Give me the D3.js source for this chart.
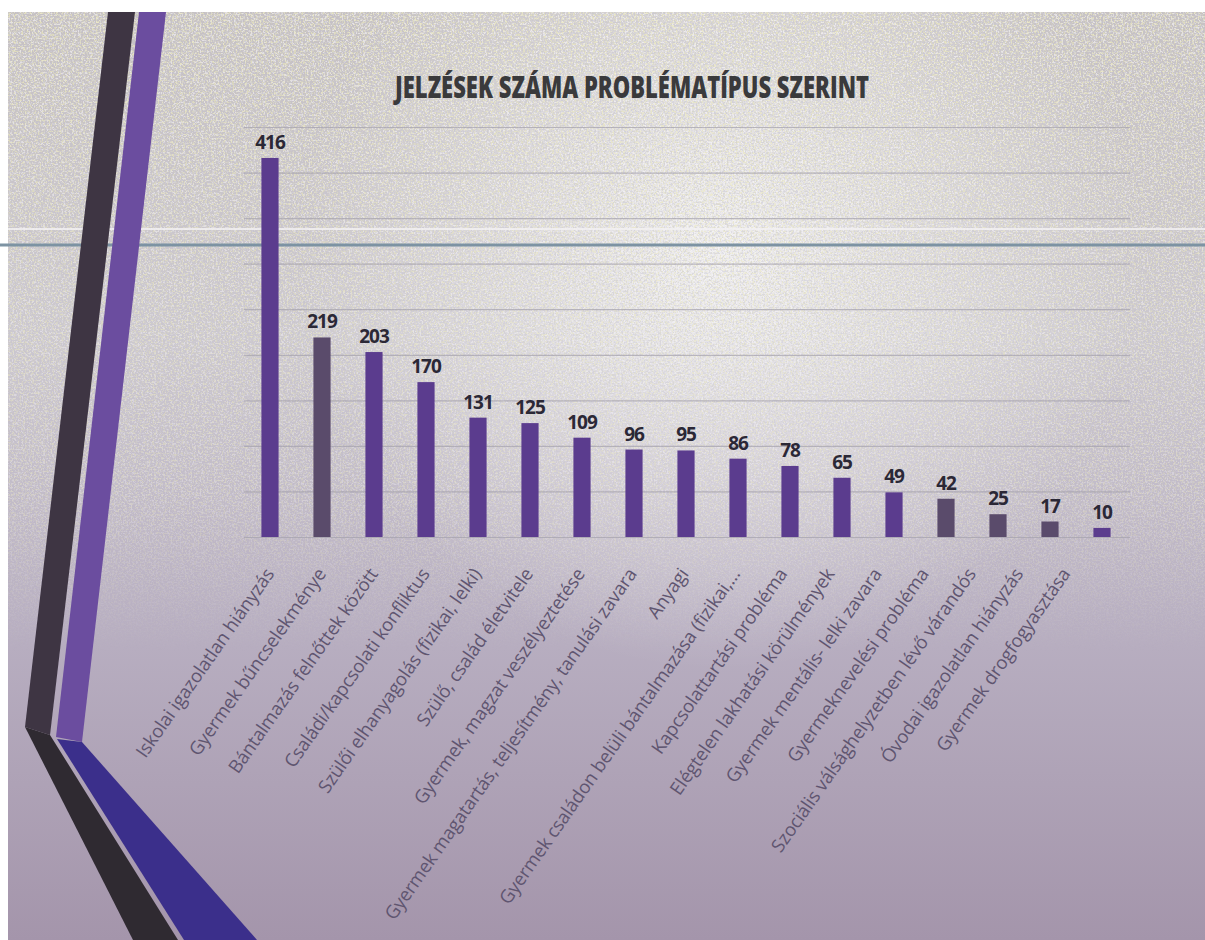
<!DOCTYPE html>
<html>
<head>
<meta charset="utf-8">
<script src="https://cdn.jsdelivr.net/npm/d3@7"></script>
<style>
  body { margin: 0; background: #fff; }
  svg { display: block; }
</style>
</head>
<body>
<div id="chart"></div>
<script>
// chart data
const categories = [
  "Iskolai igazolatlan hiányzás",
  "Gyermek bűncselekménye",
  "Bántalmazás felnőttek között",
  "Családi/kapcsolati konfliktus",
  "Szülői elhanyagolás (fizikai, lelki)",
  "Szülő, család életvitele",
  "Gyermek, magzat veszélyeztetése",
  "Gyermek magatartás, teljesítmény, tanulási zavara",
  "Anyagi",
  "Gyermek családon belüli bántalmazása (fizikai,…",
  "Kapcsolattartási probléma",
  "Elégtelen lakhatási körülmények",
  "Gyermek mentális- lelki zavara",
  "Gyermeknevelési probléma",
  "Szociális válsághelyzetben lévő várandós",
  "Óvodai igazolatlan hiányzás",
  "Gyermek drogfogyasztása"
];
const values = [416, 219, 203, 170, 131, 125, 109, 96, 95, 86, 78, 65, 49, 42, 25, 17, 10];
const darkBars = [1, 13, 14, 15]; // bars printed in the greyish shade
const gridTicks = [0, 50, 100, 150, 200, 250, 300, 350, 400, 450];
const title = "JELZÉSEK SZÁMA PROBLÉMATÍPUS SZERINT";

const W = 1205, H = 940;
const svg = d3.select('#chart').append('svg').attr('width', W).attr('height', H);
const defs = svg.append('defs');

// background
let bg = defs.append('linearGradient').attr('id', 'bg').attr('x1', 0).attr('y1', 0).attr('x2', 0).attr('y2', 1);
bg.append('stop').attr('offset', '0%').attr('stop-color', '#c6c1c3');
bg.append('stop').attr('offset', '35%').attr('stop-color', '#cdc9d0');
bg.append('stop').attr('offset', '65%').attr('stop-color', '#b9b0c2');
bg.append('stop').attr('offset', '100%').attr('stop-color', '#a495ab');

let glow = defs.append('radialGradient').attr('id', 'glow')
  .attr('gradientUnits', 'userSpaceOnUse').attr('cx', 720).attr('cy', 250).attr('r', 420);
glow.append('stop').attr('offset', '0%').attr('stop-color', '#fff').attr('stop-opacity', 0.7);
glow.append('stop').attr('offset', '100%').attr('stop-color', '#fff').attr('stop-opacity', 0);

let fade = defs.append('linearGradient').attr('id', 'fade').attr('x1', 0).attr('y1', 0).attr('x2', 0).attr('y2', 1);
fade.append('stop').attr('offset', '0%').attr('stop-color', '#fff').attr('stop-opacity', 1);
fade.append('stop').attr('offset', '75%').attr('stop-color', '#fff').attr('stop-opacity', 0.55);
fade.append('stop').attr('offset', '100%').attr('stop-color', '#fff').attr('stop-opacity', 0);
defs.append('mask').attr('id', 'noiseMask').attr('maskUnits', 'userSpaceOnUse')
  .attr('x', 8).attr('y', 12).attr('width', W - 8).attr('height', 640)
  .append('rect').attr('x', 8).attr('y', 12).attr('width', W - 8).attr('height', 640).attr('fill', 'url(#fade)');

// scan speckle, one yellowish and one grey layer
function speckle(id, seed, r, g, b) {
  let f = defs.append('filter').attr('id', id).attr('filterUnits', 'userSpaceOnUse')
    .attr('x', 8).attr('y', 12).attr('width', W - 8).attr('height', 640);
  f.append('feTurbulence').attr('type', 'fractalNoise').attr('baseFrequency', 0.55).attr('numOctaves', 2).attr('seed', seed);
  f.append('feColorMatrix').attr('type', 'matrix')
    .attr('values', `0 0 0 0 ${r}  0 0 0 0 ${g}  0 0 0 0 ${b}  7 0 0 0 -3.5`);
}
speckle('noiseA', 3, 0.82, 0.80, 0.50);
speckle('noiseB', 11, 0.56, 0.55, 0.62);
speckle('noiseC', 23, 0.96, 0.95, 0.97);

svg.append('rect').attr('x', 8).attr('y', 12).attr('width', W - 8).attr('height', H - 12).attr('fill', 'url(#bg)');
svg.append('rect').attr('x', 8).attr('y', 12).attr('width', W - 8).attr('height', H - 12).attr('fill', 'url(#glow)');
let speck = svg.append('g').attr('mask', 'url(#noiseMask)');
speck.append('rect').attr('x', 8).attr('y', 12).attr('width', W - 8).attr('height', 640)
  .attr('filter', 'url(#noiseC)').attr('opacity', 0.6);
speck.append('rect').attr('x', 8).attr('y', 12).attr('width', W - 8).attr('height', 640)
  .attr('filter', 'url(#noiseA)').attr('opacity', 0.7);
speck.append('rect').attr('x', 8).attr('y', 12).attr('width', W - 8).attr('height', 640)
  .attr('filter', 'url(#noiseB)').attr('opacity', 0.55);

// scan streak across the page
svg.append('line').attr('x1', 8).attr('x2', W).attr('y1', 229).attr('y2', 229)
  .attr('stroke', '#f4f2f4').attr('stroke-width', 2).attr('opacity', 0.8);
svg.append('line').attr('x1', 0).attr('x2', W).attr('y1', 245).attr('y2', 245)
  .attr('stroke', '#7d93a3').attr('stroke-width', 3);

// decorative stripes on the left
const stripes = [
  { fill: '#3e3543', pts: [[108, 12], [135, 12], [50, 735], [25, 727]] },
  { fill: '#2f2a31', pts: [[25, 727], [50, 735], [178, 940], [133, 940]] },
  { fill: '#6b4d9f', pts: [[139, 12], [166, 12], [82, 742], [56, 737]] },
  { fill: '#3b2f8b', pts: [[57, 739], [82, 742], [257, 940], [184, 940]] }
];
svg.append('g').selectAll('path').data(stripes).join('path')
  .attr('d', d => d3.line()(d.pts) + 'Z')
  .attr('fill', d => d.fill);

// scales
const x = d3.scaleBand().domain(categories).range([244, 1128]).paddingInner(0.67).paddingOuter(0.335);
const y = d3.scaleLinear().domain([0, 450]).range([537, 127]);
// tick labels sit slightly drifted in the scan
const labelX = d3.scaleLinear().domain([0, 9, 16]).range([275, 741, 1071]);

// gridlines
const grid = svg.append('g').attr('transform', 'translate(244,0)')
  .call(d3.axisLeft(y).tickValues(gridTicks).tickSize(-886).tickFormat(''));
grid.select('.domain').remove();
grid.selectAll('.tick line').attr('stroke', '#a4a1ac').attr('stroke-opacity', 0.7).attr('stroke-width', 1.2);

// title
svg.append('text')
  .attr('x', 632).attr('y', 98)
  .attr('text-anchor', 'middle')
  .attr('textLength', 474).attr('lengthAdjust', 'spacingAndGlyphs')
  .style('font-family', '"Open Sans", sans-serif')
  .style('font-weight', 800)
  .style('font-size', '30px')
  .attr('fill', '#3a3a3c')
  .text(title);

// bars
svg.append('g').selectAll('rect').data(values).join('rect')
  .attr('x', (d, i) => x(categories[i]))
  .attr('y', d => y(d))
  .attr('width', x.bandwidth())
  .attr('height', d => y(0) - y(d))
  .attr('fill', (d, i) => darkBars.includes(i) ? '#5a4b6b' : '#5b3c8e');

// value labels
svg.append('g').selectAll('text').data(values).join('text')
  .attr('x', (d, i) => x(categories[i]) + x.bandwidth() / 2)
  .attr('y', d => y(d) - 9)
  .attr('text-anchor', 'middle')
  .style('font-family', '"Open Sans", sans-serif')
  .style('font-weight', 700)
  .style('font-size', '19px')
  .style('letter-spacing', '-1px')
  .attr('fill', '#2b2836')
  .text(d => d);

// category labels
svg.append('g').selectAll('text').data(categories).join('text')
  .attr('transform', (d, i) => `translate(${labelX(i)},${574}) rotate(-55)`)
  .attr('text-anchor', 'end')
  .style('font-family', '"Open Sans", sans-serif')
  .style('font-size', '18.5px')
  .style('letter-spacing', '-0.2px')
  .attr('fill', '#5f5570')
  .text(d => d);
</script>
</body>
</html>
